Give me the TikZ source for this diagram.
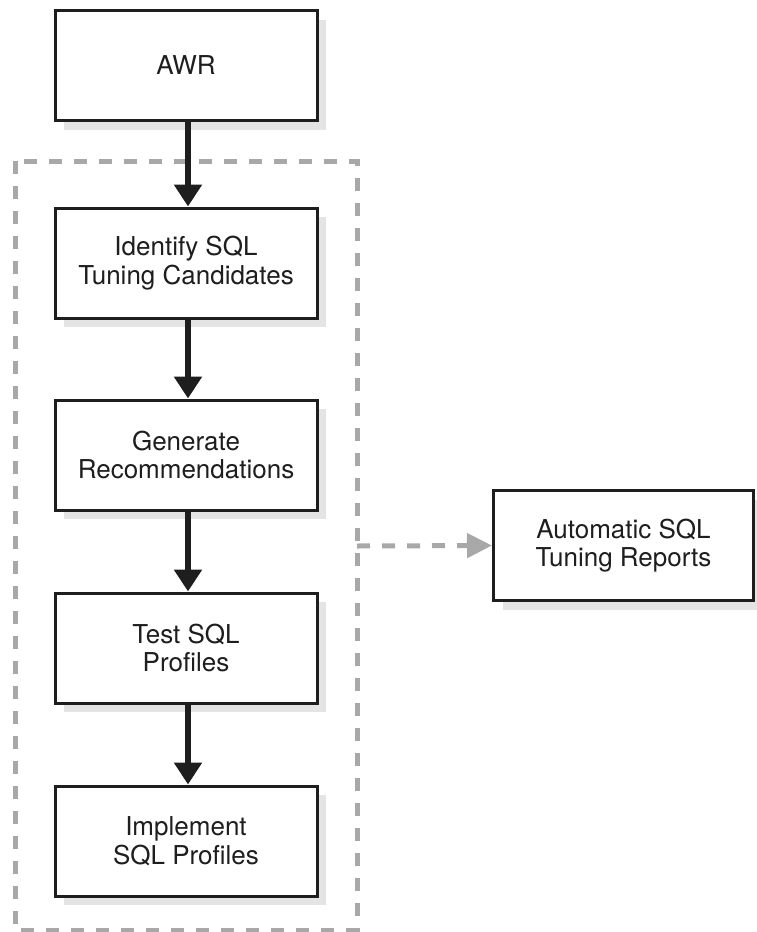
\documentclass[tikz,border=0pt]{standalone}
\usepackage{fontspec}
\setmainfont{TeX Gyre Heros}
\usetikzlibrary{arrows.meta,shadows}

\definecolor{ink}{HTML}{1E1E1E}
\definecolor{dashgray}{HTML}{A8A8A8}
\definecolor{shadowgray}{HTML}{E4E4E4}

\tikzset{
  procbox/.style={draw=ink, line width=3pt, fill=white, text=ink,
    minimum width=262pt, minimum height=110pt, align=center,
    font=\fontsize{26}{28.5}\selectfont,
    general shadow={fill=shadowgray, shadow xshift=9pt, shadow yshift=-9pt}},
  flowarrow/.style={line width=6.5pt, ink,
    -{Triangle[width=27pt,length=22pt]}},
  groupframe/.style={draw=dashgray, line width=5pt, dash pattern=on 13pt off 12pt},
  outarrow/.style={dashgray, line width=5pt, dash pattern=on 13pt off 12pt,
    -{Triangle[width=24pt,length=25pt]}}
}

\begin{document}
\begin{tikzpicture}[x=1pt, y=-1pt]
  \useasboundingbox (0,0) rectangle (757,932);

  % dashed frame around the tuning steps
  \draw[groupframe] (15,161) rectangle (357,930);
  \coordinate (frameout) at (357,546);

  % process steps
  \node[procbox] (awr)  at (186,65.5) {AWR};
  \node[procbox] (ident) at (186,263) {Identify SQL\\Tuning Candidates};
  \node[procbox] (gen)   at (186,455) {Generate\\Recommendations};
  \node[procbox] (test)  at (186,648) {Test SQL\\Profiles};
  \node[procbox] (impl)  at (186,841) {Implement\\SQL Profiles};
  \node[procbox, minimum width=260pt] (rep) at (623.5,545.5) {Automatic SQL\\Tuning Reports};

  % flow
  \draw[flowarrow] ([xshift=2pt]awr.south)  -- ([xshift=2pt]ident.north);
  \draw[flowarrow] ([xshift=2pt]ident.south) -- ([xshift=2pt]gen.north);
  \draw[flowarrow] ([xshift=2pt]gen.south)   -- ([xshift=2pt]test.north);
  \draw[flowarrow] ([xshift=2pt]test.south)  -- ([xshift=2pt]impl.north);

  % output
  \draw[outarrow] (frameout) -- (rep.west);
\end{tikzpicture}
\end{document}
